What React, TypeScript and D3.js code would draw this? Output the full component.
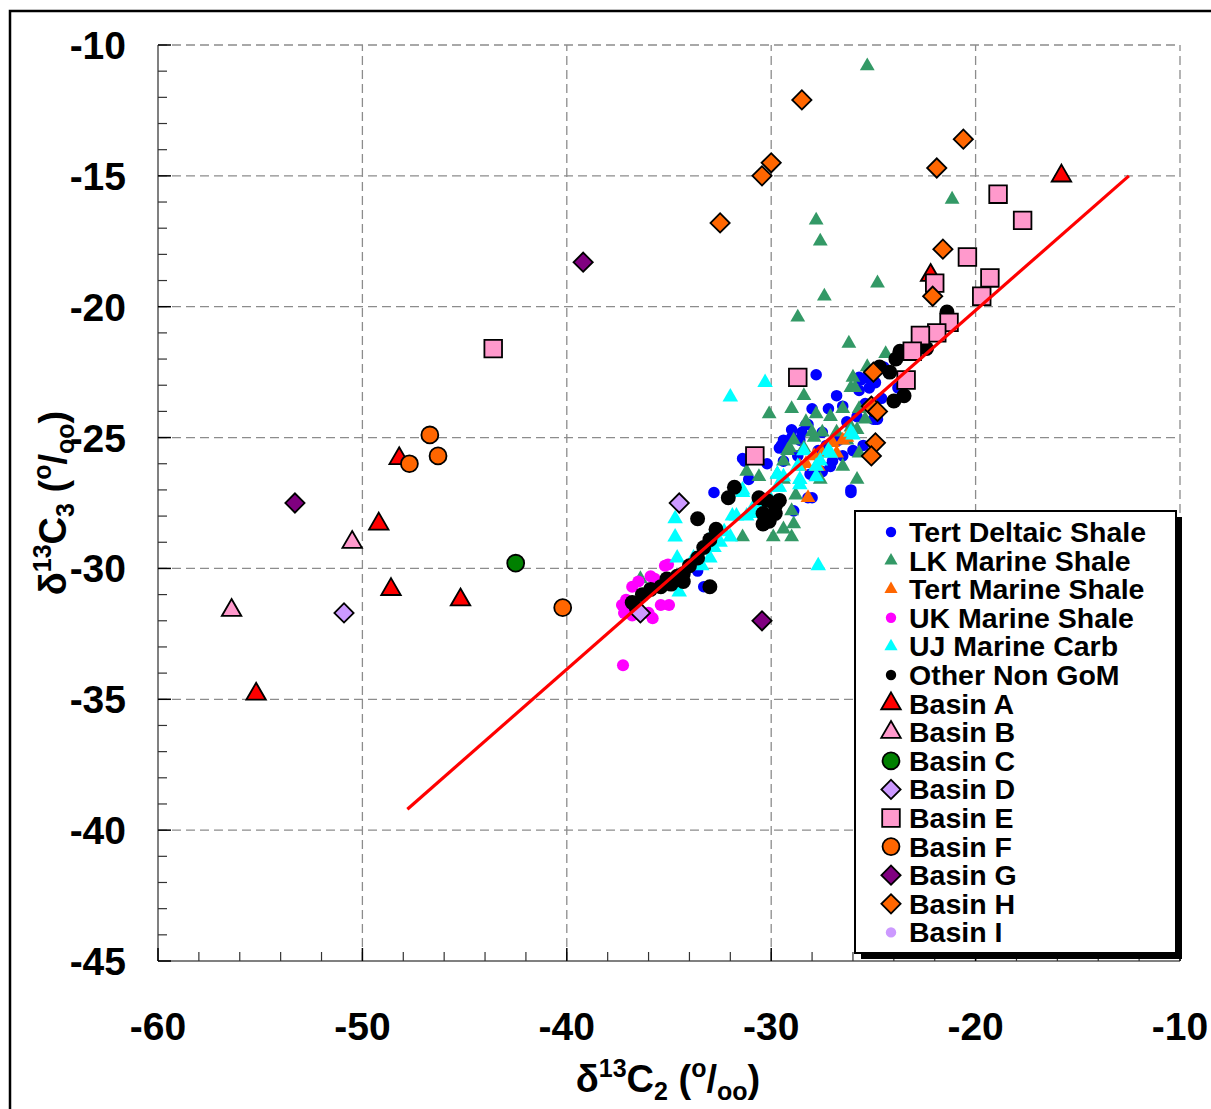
import React from 'react';
import * as d3 from 'd3';

type Pt = [number, number];

// delta13C2, delta13C3 pairs
const tertDeltaicShale: Pt[] = [
  [-27.8, -22.6], [-26.8, -23.4], [-27.2, -23.9], [-26.5, -23.8], [-25.6, -22.8], [-25.2, -23.1],
  [-25.7, -23.2], [-24.5, -22.3], [-28.3, -24.5], [-29.0, -24.7], [-29.5, -25.3], [-29.0, -25.0],
  [-31.3, -25.9], [-30.2, -26.0], [-31.1, -26.6], [-32.8, -27.1], [-26.1, -27.0], [-27.3, -25.3],
  [-26.7, -25.1], [-26.5, -25.7], [-27.0, -25.9], [-28.2, -27.3], [-28.9, -27.8], [-33.3, -30.7],
  [-24.8, -24.3], [-25.8, -24.2], [-25.5, -25.3], [-26.0, -25.5], [-28.0, -23.9], [-28.5, -24.8],
  [-29.4, -25.1], [-27.5, -24.8], [-28.7, -25.7], [-23.8, -23.1], [-33.6, -30.1], [-31.4, -25.8],
  [-26.1, -27.1], [-28.0, -27.3], [-25.3, -22.7], [-25.0, -24.3], [-28.2, -24.5], [-29.6, -25.4],
  [-28.6, -25.1], [-29.4, -25.9], [-27.1, -26.1], [-28.1, -26.4], [-27.5, -26.3], [-25.7, -22.7],
  [-24.9, -22.9], [-24.9, -24.3], [-26.3, -24.4], [-27.7, -25.5], [-25.4, -23.7], [-24.6, -23.5],
];
const lkMarineShale: Pt[] = [
  [-25.3, -10.8], [-21.15, -15.9], [-24.8, -19.1], [-27.8, -16.7], [-27.6, -17.5], [-27.4, -19.6],
  [-28.7, -20.4], [-26.2, -21.4], [-24.4, -21.8], [-28.4, -23.4], [-29.0, -23.9], [-30.1, -24.1],
  [-31.2, -26.3], [-30.6, -26.5], [-31.4, -28.8], [-29.9, -28.8], [-29.0, -28.8], [-29.4, -28.5],
  [-28.9, -28.3], [-29.0, -27.8], [-25.8, -26.6], [-26.5, -26.1], [-26.0, -22.7], [-25.3, -22.3],
  [-26.1, -23.1], [-25.4, -24.3], [-25.8, -24.7], [-25.7, -25.6], [-27.8, -24.1], [-27.1, -24.2],
  [-26.5, -23.9], [-28.3, -24.4], [-28.9, -25.1], [-29.2, -25.5], [-28.4, -25.4], [-27.9, -25.0],
  [-27.5, -24.8], [-26.8, -24.8], [-26.3, -25.1], [-26.1, -24.6], [-29.4, -25.9], [-29.7, -26.4],
  [-28.8, -27.2], [-29.4, -26.6], [-27.6, -26.6], [-27.8, -26.1], [-36.4, -30.4], [-25.9, -23.1],
  [-25.7, -23.9], [-28.0, -24.8], [-29.1, -25.4],
];
const tertMarineShale: Pt[] = [
  [-28.2, -27.3], [-27.0, -25.2], [-26.5, -25.1], [-26.8, -25.6], [-27.9, -25.7], [-27.7, -26.1],
  [-28.6, -26.1], [-26.3, -25.0], [-27.5, -25.6], [-28.3, -26.0],
];
const ukMarineShale: Pt[] = [
  [-37.25, -33.7], [-35.4, -31.4], [-35.0, -31.4], [-35.8, -31.9], [-37.1, -31.2], [-36.8, -30.7],
  [-36.5, -30.5], [-35.7, -30.4], [-35.2, -29.9], [-35.05, -29.85], [-37.2, -31.7], [-36.8, -31.8],
  [-36.9, -31.5], [-36.0, -31.7], [-36.3, -31.0], [-35.6, -30.5], [-35.9, -30.3], [-37.3, -31.4],
];
const ujMarineCarb: Pt[] = [
  [-32.0, -23.45], [-30.3, -22.9], [-27.7, -29.9], [-34.7, -28.1], [-34.7, -28.8], [-34.6, -29.6],
  [-34.5, -30.9], [-33.4, -29.9], [-32.8, -29.2], [-32.0, -28.8], [-32.5, -29.0], [-31.9, -28.0],
  [-31.0, -27.9], [-30.5, -27.5], [-29.7, -26.9], [-29.4, -26.5], [-28.7, -26.1], [-28.4, -25.5],
  [-27.8, -26.1], [-27.6, -25.9], [-27.2, -25.5], [-27.1, -25.6], [-26.1, -24.8], [-27.8, -26.5],
  [-28.6, -26.6], [-31.4, -27.1], [-33.0, -29.0], [-33.8, -29.6], [-32.8, -28.6], [-33.0, -29.6],
  [-32.3, -28.6], [-31.2, -28.0], [-30.9, -27.7], [-30.0, -27.4], [-29.7, -26.4], [-29.6, -26.9],
  [-31.7, -28.0], [-31.4, -27.0], [-26.0, -24.9], [-28.6, -26.8],
];
const otherNonGoM: Pt[] = [
  [-21.4, -20.2], [-23.7, -21.7], [-24.2, -22.5], [-24.0, -23.6], [-23.5, -23.4], [-24.7, -22.3],
  [-31.8, -26.9], [-32.1, -27.3], [-33.6, -28.1], [-33.0, -30.7], [-30.6, -27.3], [-30.2, -27.4],
  [-29.6, -27.4], [-30.4, -27.9], [-30.1, -28.2], [-30.4, -28.3], [-29.8, -27.9], [-29.8, -27.6],
  [-32.7, -28.5], [-33.0, -28.9], [-33.3, -29.2], [-33.6, -29.6], [-34.0, -29.9], [-34.3, -30.2],
  [-34.6, -30.3], [-35.1, -30.4], [-35.4, -30.7], [-35.9, -30.8], [-36.3, -31.0], [-36.8, -31.3],
  [-36.6, -31.5], [-34.3, -30.5], [-34.9, -30.6], [-22.4, -21.6], [-23.9, -22.0],
];
const basinA: Pt[] = [
  [-15.8, -15.0], [-55.2, -34.8], [-49.2, -28.3], [-48.6, -30.8], [-45.2, -31.2], [-48.2, -25.8], [-22.2, -18.8],
];
const basinB: Pt[] = [[-56.4, -31.6], [-50.5, -29.0]];
const basinC: Pt[] = [[-42.5, -29.8]];
const basinD: Pt[] = [[-50.9, -31.7], [-34.5, -27.5], [-36.4, -31.7]];
const basinE: Pt[] = [
  [-43.6, -21.6], [-30.8, -25.7], [-28.7, -22.7], [-23.4, -22.8], [-18.9, -15.7], [-17.7, -16.7],
  [-20.4, -18.1], [-22.0, -19.1], [-19.3, -18.9], [-19.7, -19.6], [-21.3, -20.6], [-21.9, -21.0],
  [-22.7, -21.1], [-23.1, -21.7],
];
const basinF: Pt[] = [[-46.7, -24.9], [-46.3, -25.7], [-47.7, -26.0], [-40.2, -31.5]];
const basinG: Pt[] = [[-53.3, -27.5], [-39.2, -18.3], [-30.45, -32.0]];
const basinH: Pt[] = [
  [-28.5, -12.1], [-30.0, -14.5], [-30.45, -15.0], [-32.5, -16.8], [-20.6, -13.6], [-21.9, -14.7],
  [-21.6, -17.8], [-22.1, -19.6], [-25.0, -22.5], [-25.1, -23.8], [-24.8, -24.0], [-24.9, -25.2],
  [-25.1, -25.7],
];
const basinI: Pt[] = [];

const lineX = [-47.8, -12.5];
const lineY = [-39.2, -15.0];

const xTicks = [-60, -50, -40, -30, -20, -10];
const yTicks = [-45, -40, -35, -30, -25, -20, -15, -10];

type Series = {
  name: string; data: Pt[]; shape: string; fill: string; size: number; border: boolean;
};

const series: Series[] = [
  { name: 'Tert Deltaic Shale', data: tertDeltaicShale, shape: 'circle', fill: '#0000FF', size: 105, border: false },
  { name: 'LK Marine Shale', data: lkMarineShale, shape: 'triangle', fill: '#339966', size: 95, border: false },
  { name: 'Tert Marine Shale', data: tertMarineShale, shape: 'triangle', fill: '#FF6600', size: 95, border: false },
  { name: 'UK Marine Shale', data: ukMarineShale, shape: 'circle', fill: '#FF00FF', size: 115, border: false },
  { name: 'UJ Marine Carb', data: ujMarineCarb, shape: 'triangle', fill: '#00FFFF', size: 105, border: false },
  { name: 'Other Non GoM', data: otherNonGoM, shape: 'circle', fill: '#000000', size: 175, border: false },
  { name: 'Basin A', data: basinA, shape: 'triangle', fill: '#FF0000', size: 165, border: true },
  { name: 'Basin B', data: basinB, shape: 'triangle', fill: '#FF99CC', size: 165, border: true },
  { name: 'Basin C', data: basinC, shape: 'circle', fill: '#008000', size: 225, border: true },
  { name: 'Basin D', data: basinD, shape: 'diamond', fill: '#CC99FF', size: 185, border: true },
  { name: 'Basin E', data: basinE, shape: 'square', fill: '#FF99CC', size: 310, border: true },
  { name: 'Basin F', data: basinF, shape: 'circle', fill: '#FF6600', size: 225, border: true },
  { name: 'Basin G', data: basinG, shape: 'diamond', fill: '#800080', size: 185, border: true },
  { name: 'Basin H', data: basinH, shape: 'diamond', fill: '#FF6600', size: 185, border: true },
  { name: 'Basin I', data: basinI, shape: 'circle', fill: '#CC99FF', size: 90, border: false },
];

const symbolType = (s: string) =>
  s === 'circle' ? d3.symbolCircle : s === 'triangle' ? d3.symbolTriangle : d3.symbolSquare;

const markerPath = (s: Series) => d3.symbol().type(symbolType(s.shape)).size(s.size)() as string;

const FONT = '"Liberation Sans", Arial, Helvetica, sans-serif';

const Marker = ({ s, cx, cy }: { s: Series; cx: number; cy: number }) => (
  <path
    d={markerPath(s)}
    transform={`translate(${cx},${cy})${s.shape === 'diamond' ? ' rotate(45)' : ''}`}
    fill={s.fill}
    stroke={s.border ? '#000' : 'none'}
    strokeWidth={s.border ? 1.8 : 0}
    strokeLinejoin="miter"
  />
);

const App = () => {
  const x = d3.scaleLinear().domain([-60, -10]).range([158, 1180]);
  const y = d3.scaleLinear().domain([-45, -10]).range([961, 45]);
  const xMinor = d3.range(-58, -10, 2).filter((v) => v % 10 !== 0);
  const yMinor = d3.range(-44, -10, 1).filter((v) => v % 5 !== 0);
  const line = d3.line<number>().x((d, i) => x(lineX[i])).y((d, i) => y(lineY[i]));

  const legX = 855, legY = 511, legW = 321, legH = 442;
  const rowY = (i: number) => 532 + i * 28.6;

  return (
    <svg width={1211} height={1109} style={{ position: 'absolute', left: 0, top: 0, background: '#fff' }}
      fontFamily={FONT} fontWeight="bold">
      <rect x={0} y={0} width={1211} height={1109} fill="#fff" />
      <path d="M10,1109 V11 H1211" fill="none" stroke="#000" strokeWidth={2.5} />

      {/* grid */}
      {xTicks.slice(1).map((v) => (
        <line key={'gx' + v} x1={x(v)} x2={x(v)} y1={y(-45)} y2={y(-10)} stroke="#8c8c8c" strokeWidth={1.3} strokeDasharray="9,5" />
      ))}
      {yTicks.slice(1).map((v) => (
        <line key={'gy' + v} x1={x(-60)} x2={x(-10)} y1={y(v)} y2={y(v)} stroke="#8c8c8c" strokeWidth={1.3} strokeDasharray="9,5" />
      ))}

      {/* axes */}
      <line x1={x(-60)} x2={x(-60)} y1={y(-45)} y2={y(-10)} stroke="#808080" strokeWidth={2} />
      <line x1={x(-60)} x2={x(-10)} y1={y(-45)} y2={y(-45)} stroke="#808080" strokeWidth={2} />
      {yMinor.map((v) => (
        <line key={'ym' + v} x1={x(-60)} x2={x(-60) + 9} y1={y(v)} y2={y(v)} stroke="#333" strokeWidth={1.2} />
      ))}
      {yTicks.map((v) => (
        <line key={'yM' + v} x1={x(-60)} x2={x(-60) + 13} y1={y(v)} y2={y(v)} stroke="#000" strokeWidth={1.5} />
      ))}
      {xMinor.map((v) => (
        <line key={'xm' + v} x1={x(v)} x2={x(v)} y1={y(-45)} y2={y(-45) - 9} stroke="#333" strokeWidth={1.2} />
      ))}
      {xTicks.map((v) => (
        <line key={'xM' + v} x1={x(v)} x2={x(v)} y1={y(-45)} y2={y(-45) - 13} stroke="#000" strokeWidth={1.5} />
      ))}

      {yTicks.map((v) => (
        <text key={'yl' + v} x={126} y={y(v) + 14} textAnchor="end" fontSize={39}>{v}</text>
      ))}
      {xTicks.map((v) => (
        <text key={'xl' + v} x={x(v)} y={1040} textAnchor="middle" fontSize={39}>{v}</text>
      ))}

      {/* axis titles */}
      <text x={668} y={1092} textAnchor="middle" fontSize={38}>
        δ<tspan dy={-15} fontSize={25}>13</tspan><tspan dy={15}>C</tspan><tspan dy={8} fontSize={25}>2</tspan>
        <tspan dy={-8}> (</tspan><tspan dy={-15} fontSize={25}>o</tspan><tspan dy={15}>/</tspan>
        <tspan dy={8} fontSize={25}>oo</tspan><tspan dy={-8}>)</tspan>
      </text>
      <text transform="translate(66,503) rotate(-90)" textAnchor="middle" fontSize={38}>
        δ<tspan dy={-15} fontSize={25}>13</tspan><tspan dy={15}>C</tspan><tspan dy={8} fontSize={25}>3</tspan>
        <tspan dy={-8}> (</tspan><tspan dy={-15} fontSize={25}>o</tspan><tspan dy={15}>/</tspan>
        <tspan dy={8} fontSize={25}>oo</tspan><tspan dy={-8}>)</tspan>
      </text>

      {/* points */}
      {series.map((s) => (
        <g key={s.name}>
          {s.data.map((d, i) => <Marker key={i} s={s} cx={x(d[0])} cy={y(d[1])} />)}
        </g>
      ))}

      {/* regression line */}
      <path d={line(lineX) as string} fill="none" stroke="#FF0000" strokeWidth={3.2} />

      {/* legend */}
      <rect x={legX + 6} y={legY + 6} width={legW} height={legH} fill="#000" />
      <rect x={legX} y={legY} width={legW} height={legH} fill="#fff" stroke="#000" strokeWidth={2} />
      {series.map((s, i) => (
        <g key={'lg' + s.name}>
          <Marker s={s.border ? s : { ...s, size: s.shape === 'circle' ? 85 : 75 }} cx={891} cy={rowY(i)} />
          <text x={909} y={rowY(i) + 10} fontSize={28.5}>{s.name}</text>
        </g>
      ))}
    </svg>
  );
};

export default App;
